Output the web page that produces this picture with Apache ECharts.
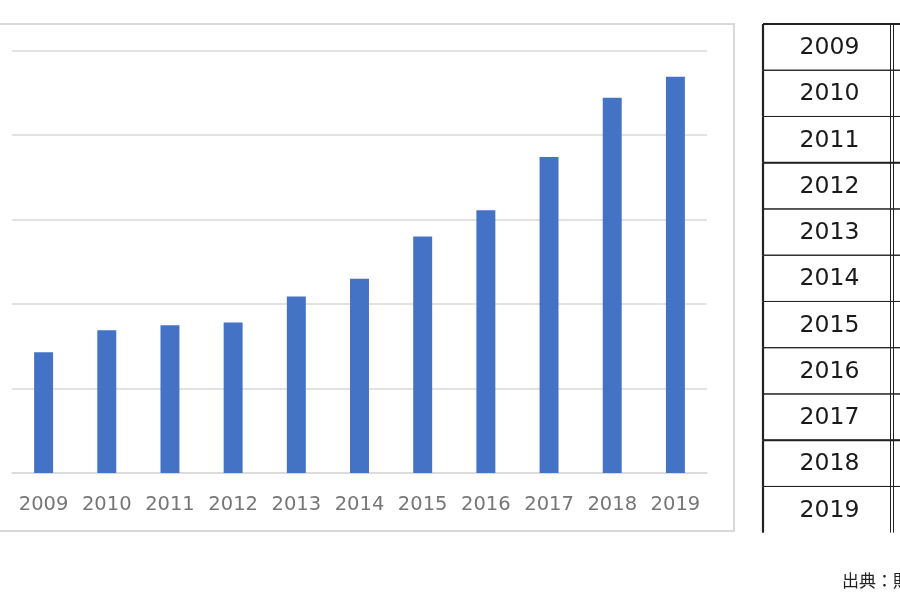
<!DOCTYPE html>
<html>
<head>
<meta charset="utf-8">
<script src="https://cdn.jsdelivr.net/npm/echarts@6/dist/echarts.min.js"></script>
<style>
html,body{margin:0;padding:0;background:#fff;}
#main{width:900px;height:600px;}
</style>
</head>
<body>
<div id="main"></div>
<script>
// ---- data ----
const years = ['2009','2010','2011','2012','2013','2014','2015','2016','2017','2018','2019'];
const values = [143, 169, 175, 178, 209, 230, 280, 311, 374, 444, 469];
const tableYears = years.slice();
const sourceNote = '出典：財務省';

const chart = echarts.init(document.getElementById('main'), null, {renderer: 'canvas'});

const thickAfter = { '2011': true, '2017': true };

function renderCell(params, api) {
  const i = api.value(0);
  const c0 = api.coord([0, i]);
  const c1 = api.coord([1, i]);
  const colW = c1[0] - c0[0];
  const h = api.size([0, 1])[1];
  const x0 = c0[0], x1 = c1[0], x2 = c1[0] + colW;
  const yTop = c0[1] - h / 2, yBot = c0[1] + h / 2;
  const label = tableYears[i];
  const children = [];
  const lineStyle = (w) => ({ stroke: '#222', lineWidth: w });
  children.push({ type: 'line', shape: { x1: x0, y1: yTop, x2: x2, y2: yTop }, style: lineStyle(i === 0 ? 2 : 1) });
  if (i < tableYears.length - 1) {
    children.push({ type: 'line', shape: { x1: x0, y1: yBot, x2: x2, y2: yBot }, style: lineStyle(thickAfter[label] ? 2 : 1) });
  }
  children.push({ type: 'line', shape: { x1: x0, y1: yTop, x2: x0, y2: yBot }, style: lineStyle(2.2) });
  children.push({ type: 'line', shape: { x1: x1 - 1.5, y1: yTop, x2: x1 - 1.5, y2: yBot }, style: lineStyle(1) });
  children.push({ type: 'line', shape: { x1: x1 + 1.5, y1: yTop, x2: x1 + 1.5, y2: yBot }, style: lineStyle(1) });
  children.push({
    type: 'text',
    style: {
      text: label, x: (x0 + x1) / 2 + 2, y: c0[1] + 1,
      align: 'center', verticalAlign: 'middle',
      fontFamily: 'DejaVu Sans', fontSize: 23.5, fill: '#1a1a1a'
    }
  });
  return { type: 'group', children: children };
}

const option = {
  animation: false,
  backgroundColor: '#ffffff',
  graphic: [
    {
      type: 'rect', silent: true, z: -10,
      shape: { x: -10, y: 24, width: 744, height: 507 },
      style: { fill: 'none', stroke: '#d9d9d9', lineWidth: 2 }
    },
    {
      type: 'text', left: 842, top: 572,
      style: { text: sourceNote, fontFamily: 'Noto Sans CJK JP', fontSize: 17, fill: '#222' }
    }
  ],
  grid: [
    { left: 12, right: 193, top: 50.5, bottom: 127, containLabel: false },
    { left: 763, right: 8, top: 24, bottom: 67.3, containLabel: false }
  ],
  xAxis: [
    {
      gridIndex: 0, type: 'category', data: years,
      axisLine: { show: true, lineStyle: { color: '#d9d9d9', width: 1.5 } },
      axisTick: { show: false },
      axisLabel: { color: '#767676', fontFamily: 'DejaVu Sans', fontSize: 19.5, margin: 22, interval: 0 }
    },
    { gridIndex: 1, type: 'value', min: 0, max: 1, show: false }
  ],
  yAxis: [
    {
      gridIndex: 0, type: 'value', min: 0, max: 500, interval: 100,
      axisLabel: { show: false }, axisLine: { show: false }, axisTick: { show: false },
      splitLine: { show: true, lineStyle: { color: '#d9d9d9', width: 1.5 } }
    },
    { gridIndex: 1, type: 'category', data: tableYears, inverse: true, show: false }
  ],
  series: [
    {
      type: 'bar', xAxisIndex: 0, yAxisIndex: 0, data: values,
      barWidth: '30%', itemStyle: { color: '#4472C4' }
    },
    {
      type: 'custom', xAxisIndex: 1, yAxisIndex: 1,
      data: tableYears.map((y, i) => [i]),
      encode: { y: 0 }, clip: false,
      renderItem: renderCell, silent: true
    }
  ]
};
chart.setOption(option);
</script>
</body>
</html>
